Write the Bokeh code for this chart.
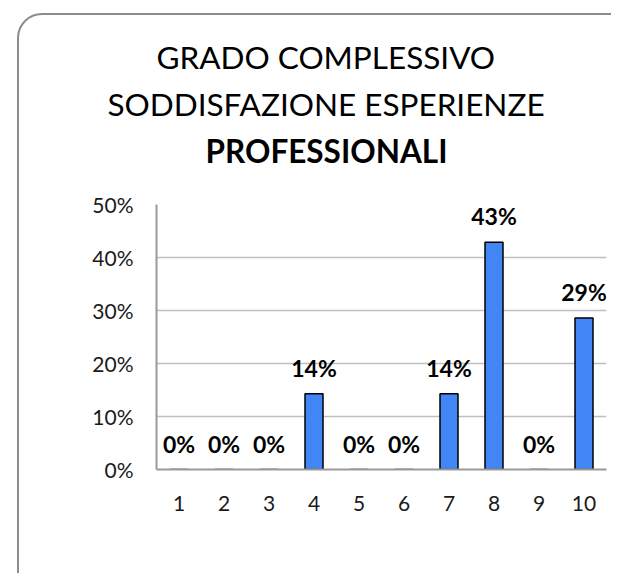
from bokeh.plotting import figure
from bokeh.models import (ColumnDataSource, FactorRange, Range1d, FixedTicker,
                          NumeralTickFormatter, Title)
from bokeh.core.properties import value
from bokeh.embed import file_html
from bokeh.resources import INLINE

# ---- data ----
categories = ["1", "2", "3", "4", "5", "6", "7", "8", "9", "10"]
shares = [0.0, 0.0, 0.0, 0.1429, 0.0, 0.0, 0.1429, 0.4286, 0.0, 0.2857]
y_ticks = [0.0, 0.1, 0.2, 0.3, 0.4, 0.5]
title_lines = ["GRADO COMPLESSIVO", "SODDISFAZIONE  ESPERIENZE", "PROFESSIONALI"]

FONT = "Lato"
labels = [f"{round(v * 100)}%" for v in shares]
src = ColumnDataSource(dict(cat=categories, val=shares, lab=labels))

frame_svg = ("url(\"data:image/svg+xml;utf8,<svg xmlns='http://www.w3.org/2000/svg' "
             "width='700' height='700'><rect x='18' y='14' width='640' height='600' "
             "rx='24' ry='24' fill='white' stroke='%238c8c8c' stroke-width='2'/></svg>\")")


def title_line(text, offset, bold=False, size="31.5px", standoff=7):
    return Title(text=text, align="left", offset=offset, standoff=standoff,
                 text_font=FONT, text_font_style="bold" if bold else "normal",
                 text_font_size=size, text_color="black")


p = figure(width=611, height=573, x_range=FactorRange(*categories),
           y_range=Range1d(0, 0.5), output_backend="svg", toolbar_location=None,
           min_border_left=156, min_border_right=5, min_border_top=204,
           min_border_bottom=104,
           title=title_line(title_lines[0], 0))
p.styles = {"background-image": frame_svg, "background-repeat": "no-repeat",
            "background-color": "white"}
# items in "above" are stacked from the plot outwards
p.add_layout(title_line(" ", 0, size="20px", standoff=5), "above")
p.add_layout(title_line(title_lines[2], 49, bold=True), "above")
p.add_layout(title_line(title_lines[1], -49), "above")

p.outline_line_color = None
p.background_fill_color = None
p.border_fill_color = None

p.vbar(x="cat", top="val", width=0.4, source=src, fill_color="#4285F4",
       line_color="black", line_width=1.5)
p.text(x="cat", y="val", text="lab", source=src, text_align="center",
       text_baseline="alphabetic", y_offset=-26, text_font=value(FONT),
       text_font_style="bold", text_font_size="23px", text_color="black")

p.yaxis.ticker = FixedTicker(ticks=y_ticks)
p.yaxis.formatter = NumeralTickFormatter(format="0%")
p.ygrid.ticker = FixedTicker(ticks=y_ticks)
p.xgrid.grid_line_color = None
p.ygrid.grid_line_color = "#bfbfbf"
p.ygrid.grid_line_width = 1.5

for ax in (p.xaxis, p.yaxis):
    ax.axis_line_color = "#9a9a9a"
    ax.axis_line_width = 2
    ax.major_tick_line_color = None
    ax.minor_tick_line_color = None
    ax.major_label_text_font = FONT
    ax.major_label_text_font_size = "21px"
    ax.major_label_text_color = "#1a1a1a"
p.yaxis.major_label_standoff = 17
p.xaxis.major_label_standoff = 20

open("out.html", "w").write(file_html(p, INLINE))
